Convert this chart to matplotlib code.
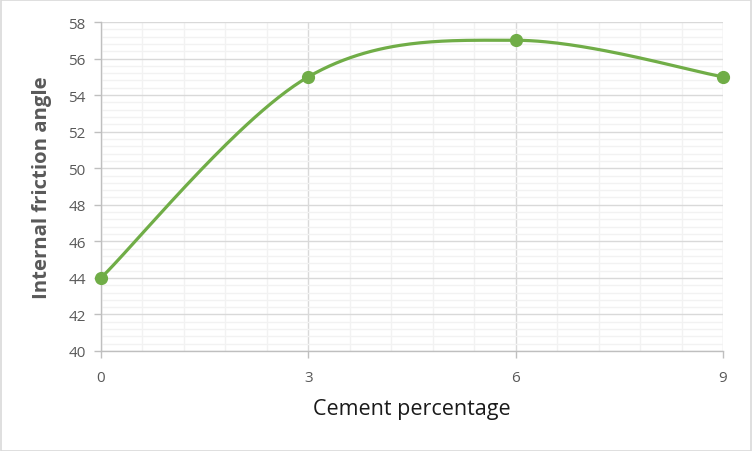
import numpy as np
import matplotlib
matplotlib.use("Agg")
import matplotlib.pyplot as plt
from matplotlib.ticker import MultipleLocator
from matplotlib.patches import Rectangle

cement = [0, 3, 6, 9]
friction = [44, 55, 57, 55]

xticks = [0, 3, 6, 9]
yticks = list(range(40, 59, 2))

def excel_smooth(xs, ys, n=60):
    pts = np.column_stack([xs, ys]).astype(float)
    out = []
    for i in range(len(pts) - 1):
        p0 = pts[i - 1] if i > 0 else pts[i]
        p1 = pts[i]
        p2 = pts[i + 1]
        p3 = pts[i + 2] if i + 2 < len(pts) else pts[i + 1]
        c1 = p1 + (p2 - p0) / 6.0
        c2 = p2 - (p3 - p1) / 6.0
        t = np.linspace(0, 1, n)[:, None]
        seg = ((1 - t) ** 3) * p1 + 3 * ((1 - t) ** 2) * t * c1 + 3 * (1 - t) * t ** 2 * c2 + t ** 3 * p2
        if i > 0:
            seg = seg[1:]
        out.append(seg)
    out = np.vstack(out)
    return out[:, 0], out[:, 1]

plt.rcParams['font.family'] = ['Open Sans', 'DejaVu Sans']

fig = plt.figure(figsize=(7.52, 4.52), dpi=100)
ax = fig.add_axes([101/752, 1 - 352/452, (723 - 101)/752, (352 - 23)/452])

green = '#70AD47'
sx, sy = excel_smooth(cement, friction)
ax.plot(sx, sy, color=green, lw=2.3, solid_capstyle='round', zorder=4, clip_on=False)
ax.plot(cement, friction, 'o', color=green, ms=8.5, zorder=5, clip_on=False)

ax.set_xlim(0, 9)
ax.set_ylim(40, 58)
ax.set_xticks(xticks)
ax.set_yticks(yticks)
ax.xaxis.set_minor_locator(MultipleLocator(0.6))
ax.yaxis.set_minor_locator(MultipleLocator(0.4))

ax.grid(which='major', color='#D9D9D9', lw=1.0, zorder=1)
ax.grid(which='minor', color='#F2F2F2', lw=1.0, zorder=0)
ax.set_axisbelow(True)

for s in ['top', 'right']:
    ax.spines[s].set_visible(False)
for s in ['left', 'bottom']:
    ax.spines[s].set_color('#BFBFBF')
    ax.spines[s].set_linewidth(1.0)

ax.tick_params(which='major', axis='both', direction='out', length=5, width=1, color='#BFBFBF',
               labelcolor='#595959', labelsize=11, pad=6)
ax.tick_params(which='major', axis='x', pad=9)
ax.tick_params(which='minor', length=0)

ax.set_xlabel('Cement percentage', fontsize=15.5, color='#1a1a1a', labelpad=9)
ax.set_ylabel('Internal friction angle', fontsize=14.6, color='#595959', fontweight='bold', labelpad=12)

fig.patches.append(Rectangle((0.5/752, 0.5/452), 1 - 1.5/752, 1 - 1.5/452, transform=fig.transFigure,
                             fill=False, edgecolor='#D9D9D9', lw=1.2))

fig.savefig('out.png', dpi=100)
